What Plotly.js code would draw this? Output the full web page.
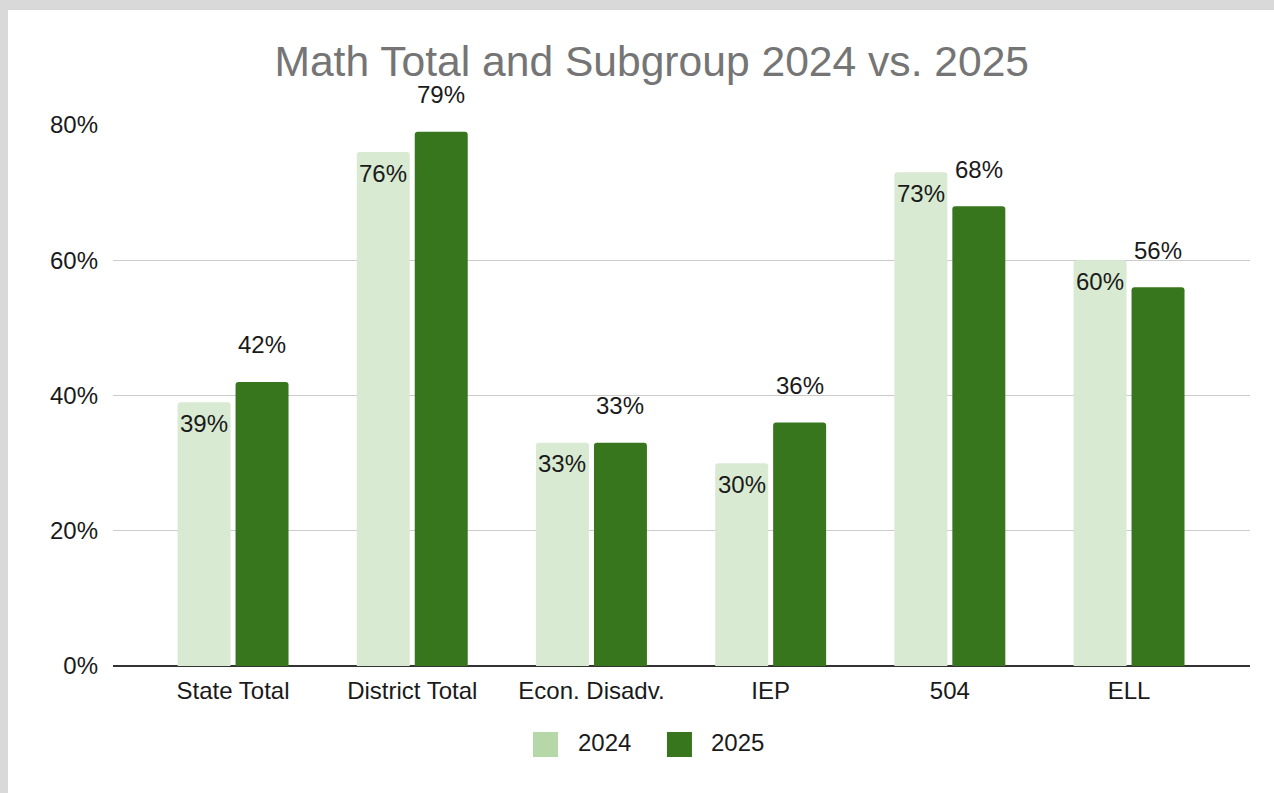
<!DOCTYPE html>
<html>
<head>
<meta charset="utf-8">
<script src="https://cdn.plot.ly/plotly-3.0.1.min.js"></script>
<style>
  html, body { margin: 0; padding: 0; background: #d9d9d9; width: 1274px; height: 793px; overflow: hidden; }
  #chart { position: absolute; left: 8px; top: 10px; width: 1266px; height: 783px; background: #ffffff; }
</style>
</head>
<body>
<div id="chart"></div>
<script>
const categories = ["State Total", "District Total", "Econ. Disadv.", "IEP", "504", "ELL"];
const values2024 = [0.39, 0.76, 0.33, 0.30, 0.73, 0.60];
const values2025 = [0.42, 0.79, 0.33, 0.36, 0.68, 0.56];
const seriesNames = ["2024", "2025"];
const yTicks = [0, 0.2, 0.4, 0.6, 0.8];

const FONT = "Liberation Sans, Arial, sans-serif";
const barColor2024 = "#d9ead3";
const swatchColor2024 = "#b6d7a8";
const barColor2025 = "#38761d";

const pct = v => Math.round(v * 100) + "%";

const traces = [
  { type: "bar", name: seriesNames[0], x: categories, y: values2024,
    marker: { color: barColor2024, cornerradius: 3 }, hoverinfo: "x+y" },
  { type: "bar", name: seriesNames[1], x: categories, y: values2025,
    marker: { color: barColor2025, cornerradius: 3 }, hoverinfo: "x+y" }
];

const annotations = [];
categories.forEach((c, i) => {
  // category index i (a plain category name like "504" would be read as a position)
  annotations.push({ x: i, y: values2024[i], xref: "x", yref: "y", text: pct(values2024[i]),
    showarrow: false, xshift: -29, yshift: -21, yanchor: "middle", xanchor: "center",
    font: { family: FONT, size: 24, color: "#1a1a1a" } });
  annotations.push({ x: i, y: values2025[i], xref: "x", yref: "y", text: pct(values2025[i]),
    showarrow: false, xshift: 29, yshift: 37, yanchor: "middle", xanchor: "center",
    font: { family: FONT, size: 24, color: "#1a1a1a" } });
});

// manual legend (larger swatches like the original)
const legendItems = [
  { name: seriesNames[0], color: swatchColor2024, x0: 0.3694, x1: 0.3914, tx: 0.4072 },
  { name: seriesNames[1], color: barColor2025, x0: 0.4872, x1: 0.5092, tx: 0.5242 }
];
const shapes = [];
legendItems.forEach(it => {
  shapes.push({ type: "rect", xref: "paper", yref: "paper", x0: it.x0, x1: it.x1, y0: -0.1682, y1: -0.122,
    fillcolor: it.color, line: { width: 0 } });
  annotations.push({ xref: "paper", yref: "paper", x: it.tx, y: -0.1423, text: it.name, showarrow: false,
    xanchor: "left", yanchor: "middle", font: { family: FONT, size: 24, color: "#1a1a1a" } });
});

const layout = {
  width: 1266, height: 783,
  paper_bgcolor: "#ffffff", plot_bgcolor: "#ffffff",
  margin: { l: 105, r: 24, t: 115, b: 127 },
  font: { family: FONT, size: 24, color: "#1a1a1a" },
  title: { text: "Math Total and Subgroup 2024 vs. 2025", xref: "container", yref: "container",
    x: 0.5085, y: 0.935, xanchor: "center", yanchor: "middle",
    font: { family: FONT, size: 42.6, color: "#757575" } },
  showlegend: false,
  barmode: "group", bargap: 0.353, bargroupgap: 0.086,
  xaxis: { type: "category", range: [-0.67, 5.675], showgrid: false, showline: false, ticks: "",
    ticklabelstandoff: 8, tickfont: { family: FONT, size: 24, color: "#1a1a1a" }, fixedrange: true },
  yaxis: { range: [0, 0.8], tickvals: yTicks, tickformat: ".0%", showgrid: true, gridcolor: "#cccccc",
    gridwidth: 1, zeroline: true, zerolinecolor: "#333333", zerolinewidth: 2, showline: false, ticks: "",
    ticklabelstandoff: 14, tickfont: { family: FONT, size: 24, color: "#1a1a1a" }, fixedrange: true },
  annotations: annotations,
  shapes: shapes
};

Plotly.newPlot("chart", traces, layout, { displayModeBar: false, staticPlot: true });
</script>
</body>
</html>
